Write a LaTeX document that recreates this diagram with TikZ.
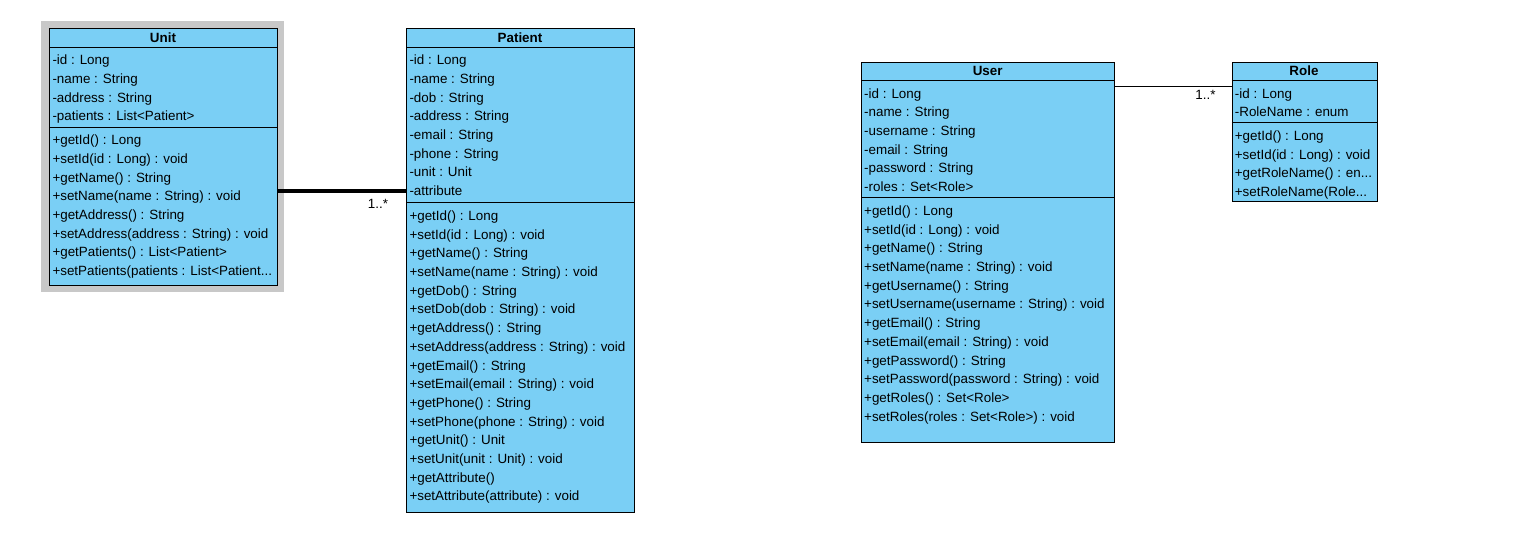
\documentclass[tikz,border=0pt]{standalone}
\usepackage{fontspec}
\setmainfont{Liberation Sans}
\definecolor{classblue}{RGB}{122,207,245}
\definecolor{selgray}{RGB}{200,200,200}
\newcommand{\cutdots}{...}

\begin{document}
\begin{tikzpicture}[x=1pt,y=-1pt,font=\fontsize{13.4}{16}\selectfont]
	\tikzstyle{classbox}=[rectangle,draw=black,line width=1pt,fill=classblue,anchor=north west,inner sep=0pt]
	\tikzstyle{title}=[font=\fontsize{13.4}{16}\selectfont\bfseries,inner sep=0pt,text height=9.6pt,text depth=0pt]
	\tikzstyle{member}=[anchor=west,inner sep=0pt,text height=9.5pt,text depth=0pt]
	\tikzstyle{sep}=[line width=1pt]
	\tikzstyle{mult}=[inner sep=0pt,anchor=north east]

	\useasboundingbox (0,0) rectangle (1524,557);

	% selection frame round Unit
	\fill[selgray] (41,21) rectangle (284,292);

	% Unit
	\node[classbox,minimum width=227.4pt,minimum height=256.7pt] (UNIT) at (49.3,28.3) {};
	\node[title] (UNIT-t) at (163,38) {Unit};
	\draw[sep] (UNIT.west |- 0,47.3) -- (UNIT.east |- 0,47.3);
	\draw[sep] (UNIT.west |- 0,127.3) -- (UNIT.east |- 0,127.3);
	\foreach \txt [count=\i] in {-id : Long,-name : String,-address : String,-patients : List<Patient>}
		\node[member] (UNIT-a\i) at (52.3,{60+18.7*(\i-1)}) {\txt};
	\foreach \txt [count=\i] in {+getId() : Long,+setId(id : Long) : void,+getName() : String,
		+setName(name : String) : void,+getAddress() : String,+setAddress(address : String) : void,
		+getPatients() : List<Patient>,+setPatients(patients : List<Patient\cutdots}
		\node[member] (UNIT-m\i) at (52.3,{140+18.7*(\i-1)}) {\txt};

	% Patient
	\node[classbox,minimum width=228.3pt,minimum height=483.4pt] (PATIENT) at (406,28.3) {};
	\node[title] (PATIENT-t) at (520,38) {Patient};
	\draw[sep] (PATIENT.west |- 0,47.3) -- (PATIENT.east |- 0,47.3);
	\draw[sep] (PATIENT.west |- 0,202.7) -- (PATIENT.east |- 0,202.7);
	\foreach \txt [count=\i] in {-id : Long,-name : String,-dob : String,-address : String,
		-email : String,-phone : String,-unit : Unit,-attribute}
		\node[member] (PATIENT-a\i) at (409.3,{60+18.7*(\i-1)}) {\txt};
	\foreach \txt [count=\i] in {+getId() : Long,+setId(id : Long) : void,+getName() : String,
		+setName(name : String) : void,+getDob() : String,+setDob(dob : String) : void,
		+getAddress() : String,+setAddress(address : String) : void,+getEmail() : String,
		+setEmail(email : String) : void,+getPhone() : String,+setPhone(phone : String) : void,
		+getUnit() : Unit,+setUnit(unit : Unit) : void,+getAttribute(),+setAttribute(attribute) : void}
		\node[member] (PATIENT-m\i) at (409.3,{215.7+18.7*(\i-1)}) {\txt};

	% User
	\node[classbox,minimum width=253.3pt,minimum height=380pt] (USER) at (861,61.7) {};
	\node[title] (USER-t) at (987.7,71) {User};
	\draw[sep] (USER.west |- 0,80.7) -- (USER.east |- 0,80.7);
	\draw[sep] (USER.west |- 0,197.7) -- (USER.east |- 0,197.7);
	\foreach \txt [count=\i] in {-id : Long,-name : String,-username : String,-email : String,
		-password : String,-roles : Set<Role>}
		\node[member] (USER-a\i) at (864,{93.3+18.7*(\i-1)}) {\txt};
	\foreach \txt [count=\i] in {+getId() : Long,+setId(id : Long) : void,+getName() : String,
		+setName(name : String) : void,+getUsername() : String,+setUsername(username : String) : void,
		+getEmail() : String,+setEmail(email : String) : void,+getPassword() : String,
		+setPassword(password : String) : void,+getRoles() : Set<Role>,+setRoles(roles : Set<Role>) : void}
		\node[member] (USER-m\i) at (864,{210.7+18.7*(\i-1)}) {\txt};

	% Role
	\node[classbox,minimum width=145pt,minimum height=139.3pt] (ROLE) at (1231.7,61.7) {};
	\node[title] (ROLE-t) at (1304,71) {Role};
	\draw[sep] (ROLE.west |- 0,80.7) -- (ROLE.east |- 0,80.7);
	\draw[sep] (ROLE.west |- 0,122.7) -- (ROLE.east |- 0,122.7);
	\foreach \txt [count=\i] in {-id : Long,-RoleName : enum}
		\node[member] (ROLE-a\i) at (1234.7,{93.3+18.7*(\i-1)}) {\txt};
	\foreach \txt [count=\i] in {+getId() : Long,+setId(id : Long) : void,+getRoleName() : en\cutdots,+setRoleName(Role\cutdots}
		\node[member] (ROLE-m\i) at (1234.7,{135.7+18.7*(\i-1)}) {\txt};

	% associations
	\coordinate (UNITEND) at (UNIT.east |- 0,190.7);
	\draw[line width=4pt] (UNITEND) -- (UNITEND -| PATIENT.west)
		node[mult,pos=1,xshift=-16pt,yshift=-6.5pt] {1..*};
	\coordinate (ROLEEND) at (ROLE.west |- 0,86.7);
	\draw[line width=1pt] (ROLEEND -| USER.east) -- (ROLEEND)
		node[mult,pos=1,xshift=-15.7pt,yshift=-3.5pt] {1..*};
\end{tikzpicture}
\end{document}
